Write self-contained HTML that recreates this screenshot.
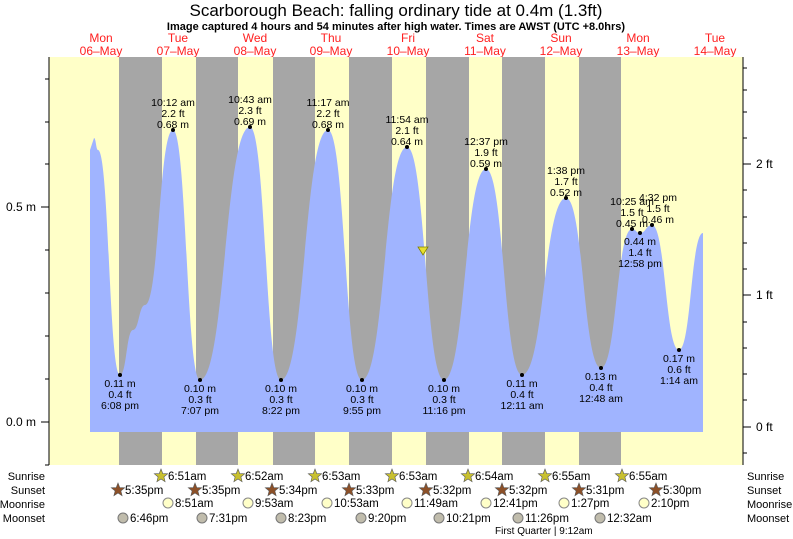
<!DOCTYPE html>
<html><head><meta charset="utf-8"><style>
body{margin:0;background:#fff}
svg{display:block;font-family:"Liberation Sans",sans-serif}
</style></head><body>
<svg id="s" width="793" height="539" viewBox="0 0 793 539" xmlns="http://www.w3.org/2000/svg">
<text x="396" y="16" font-size="17" text-anchor="middle">Scarborough Beach: falling  ordinary tide at 0.4m (1.3ft)</text>
<text x="396" y="30" font-size="11" font-weight="bold" text-anchor="middle">Image captured 4 hours and 54 minutes after high water. Times are AWST (UTC +8.0hrs)</text>
<g font-size="12" fill="#ff2020" text-anchor="middle">
<text x="101" y="42">Mon</text><text x="101" y="55">06–May</text>
<text x="178" y="42">Tue</text><text x="178" y="55">07–May</text>
<text x="255" y="42">Wed</text><text x="255" y="55">08–May</text>
<text x="331" y="42">Thu</text><text x="331" y="55">09–May</text>
<text x="408" y="42">Fri</text><text x="408" y="55">10–May</text>
<text x="485" y="42">Sat</text><text x="485" y="55">11–May</text>
<text x="561" y="42">Sun</text><text x="561" y="55">12–May</text>
<text x="638" y="42">Mon</text><text x="638" y="55">13–May</text>
<text x="715" y="42">Tue</text><text x="715" y="55">14–May</text>
</g>
<rect x="49" y="57" width="694" height="408" fill="#ffffc8"/>
<g fill="#a6a6a6">
<rect x="119" y="57" width="43" height="408"/><rect x="196" y="57" width="42" height="408"/>
<rect x="273" y="57" width="42" height="408"/><rect x="349" y="57" width="43" height="408"/>
<rect x="426" y="57" width="43" height="408"/><rect x="502" y="57" width="43" height="408"/>
<rect x="579" y="57" width="42" height="408"/>
</g>
<path id="tide" fill="#a0b4ff" d=""/>
<line x1="49" y1="57" x2="49" y2="465" stroke="#000"/>
<line x1="743" y1="57" x2="743" y2="465" stroke="#000"/>
<g stroke="#000"><line x1="41" y1="207" x2="49" y2="207"/><line x1="41" y1="422" x2="49" y2="422"/>
<line x1="45" y1="79" x2="49" y2="79"/><line x1="45" y1="122" x2="49" y2="122"/><line x1="45" y1="164" x2="49" y2="164"/><line x1="45" y1="250" x2="49" y2="250"/><line x1="45" y1="293" x2="49" y2="293"/><line x1="45" y1="336" x2="49" y2="336"/><line x1="45" y1="379" x2="49" y2="379"/><line x1="45" y1="465" x2="49" y2="465"/>
<line x1="743" y1="164" x2="751" y2="164"/><line x1="743" y1="295" x2="751" y2="295"/><line x1="743" y1="427" x2="751" y2="427"/>
<line x1="743" y1="68" x2="747" y2="68"/><line x1="743" y1="90" x2="747" y2="90"/><line x1="743" y1="112" x2="747" y2="112"/><line x1="743" y1="138" x2="747" y2="138"/><line x1="743" y1="190" x2="747" y2="190"/><line x1="743" y1="217" x2="747" y2="217"/><line x1="743" y1="243" x2="747" y2="243"/><line x1="743" y1="269" x2="747" y2="269"/><line x1="743" y1="322" x2="747" y2="322"/><line x1="743" y1="348" x2="747" y2="348"/><line x1="743" y1="374" x2="747" y2="374"/><line x1="743" y1="400" x2="747" y2="400"/><line x1="743" y1="453" x2="747" y2="453"/>
</g>
<g font-size="12"><text x="36" y="211" text-anchor="end">0.5 m</text><text x="36" y="426" text-anchor="end">0.0 m</text>
<text x="756" y="168">2 ft</text><text x="756" y="299">1 ft</text><text x="756" y="431">0 ft</text></g>
<g id="lbl" font-size="10.5" text-anchor="middle" fill="#000"></g>
<polygon points="418,247 428,247 423,255" fill="#e8e030" stroke="#808000" stroke-width="0.8"/>
<g font-size="11">
<text x="45" y="480" text-anchor="end">Sunrise</text><text x="45" y="494" text-anchor="end">Sunset</text><text x="45" y="508" text-anchor="end">Moonrise</text><text x="45" y="522" text-anchor="end">Moonset</text>
<text x="747" y="480">Sunrise</text><text x="747" y="494">Sunset</text><text x="747" y="508">Moonrise</text><text x="747" y="522">Moonset</text>
</g>
<g id="ev" font-size="11.5"></g>
<text x="495" y="534" font-size="10">First Quarter | 9:12am</text>
</svg>
<script>
var NS="http://www.w3.org/2000/svg";
function el(parent,tag,attrs,txt){var e=document.createElementNS(NS,tag);for(var k in attrs)e.setAttribute(k,attrs[k]);if(txt!==undefined)e.textContent=txt;parent.appendChild(e);return e;}
var P=[[90,432],[90,150],[94,138],[98,150],[120,375],[133,330],[145,305],[173,130],[200,380],[250,127],[281,380],[328,130],[362,380],[407,147],[444,380],[486,169],[522,375],[566,198],[601,368],[632,229],[640,233],[652,225],[679,350],[703,233]];
var d="M90,432 L90,150";
for(var i=2;i<P.length;i++){var a=P[i-1],b=P[i];if(i==2){d+=" L"+b[0]+","+b[1];continue;}
var dx=(b[0]-a[0])/2;d+=" C"+(a[0]+dx)+","+a[1]+" "+(b[0]-dx)+","+b[1]+" "+b[0]+","+b[1];}
d+=" L703,432 Z";document.getElementById("tide").setAttribute("d",d);
var L=[[120,375,0,"0.11 m","0.4 ft","6:08 pm"],[173,130,1,"10:12 am","2.2 ft","0.68 m"],[200,380,0,"0.10 m","0.3 ft","7:07 pm"],[250,127,1,"10:43 am","2.3 ft","0.69 m"],[281,380,0,"0.10 m","0.3 ft","8:22 pm"],[328,130,1,"11:17 am","2.2 ft","0.68 m"],[362,380,0,"0.10 m","0.3 ft","9:55 pm"],[407,147,1,"11:54 am","2.1 ft","0.64 m"],[444,380,0,"0.10 m","0.3 ft","11:16 pm"],[486,169,1,"12:37 pm","1.9 ft","0.59 m"],[522,375,0,"0.11 m","0.4 ft","12:11 am"],[566,198,1,"1:38 pm","1.7 ft","0.52 m"],[601,368,0,"0.13 m","0.4 ft","12:48 am"],[632,229,1,"10:25 am","1.5 ft","0.45 m"],[640,233,0,"0.44 m","1.4 ft","12:58 pm"],[652,225,1,"4:32 pm","1.5 ft","0.46 m"],[679,350,0,"0.17 m","0.6 ft","1:14 am"]];
var g=document.getElementById("lbl");
L.forEach(function(l){el(g,"circle",{cx:l[0],cy:l[1],r:2,fill:"#000"});
var y0=l[2]?l[1]-24:l[1]+12;for(var k=0;k<3;k++)el(g,"text",{x:l[0]+(l[0]==652?6:0),y:y0+k*11},l[3+k]);});
var ev=document.getElementById("ev");
function star(x,y,f){var s="";for(var i=0;i<10;i++){var r=i%2?3:7,a=-Math.PI/2+i*Math.PI/5;s+=(x+r*Math.cos(a)).toFixed(1)+","+(y+r*Math.sin(a)).toFixed(1)+" ";}el(ev,"polygon",{points:s,fill:f,stroke:"#555","stroke-width":0.6});}
[[161,"6:51am"],[238,"6:52am"],[315,"6:53am"],[392,"6:53am"],[468,"6:54am"],[545,"6:55am"],[622,"6:55am"]].forEach(function(p){star(p[0],476,"#c8c030");el(ev,"text",{x:p[0]+7,y:480},p[1]);});
[[118,"5:35pm"],[195,"5:35pm"],[272,"5:34pm"],[349,"5:33pm"],[426,"5:32pm"],[502,"5:32pm"],[579,"5:31pm"],[656,"5:30pm"]].forEach(function(p){star(p[0],490,"#8c5028");el(ev,"text",{x:p[0]+7,y:494},p[1]);});
[[168,"8:51am"],[248,"9:53am"],[327,"10:53am"],[407,"11:49am"],[486,"12:41pm"],[564,"1:27pm"],[644,"2:10pm"]].forEach(function(p){el(ev,"circle",{cx:p[0],cy:503,r:5,fill:"#ffffc8",stroke:"#888"});el(ev,"text",{x:p[0]+7,y:507},p[1]);});
[[123,"6:46pm"],[202,"7:31pm"],[281,"8:23pm"],[361,"9:20pm"],[439,"10:21pm"],[518,"11:26pm"],[600,"12:32am"]].forEach(function(p){el(ev,"circle",{cx:p[0],cy:518,r:5,fill:"#c0bcac",stroke:"#777"});el(ev,"text",{x:p[0]+7,y:522},p[1]);});
</script>
</body></html>
